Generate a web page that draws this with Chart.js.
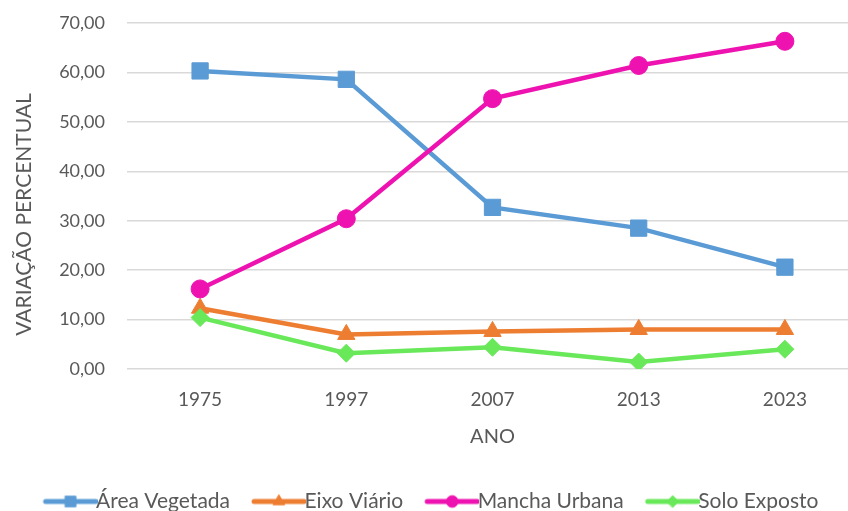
<!DOCTYPE html>
<html>
<head>
<meta charset="utf-8">
<script src="https://cdn.jsdelivr.net/npm/chart.js@4/dist/chart.umd.min.js"></script>
<style>
    html, body { margin: 0; padding: 0; background: #fff; overflow: hidden; }
    #wrap { width: 878px; height: 511px; position: relative; }
</style>
</head>
<body>
<div id="wrap"><canvas id="chart"></canvas></div>
<script>
const years = ['1975', '1997', '2007', '2013', '2023'];

const areaVegetada = [60.3, 58.6, 32.7, 28.5, 20.6];
const eixoViario = [12.3, 7.0, 7.6, 8.0, 8.0];
const manchaUrbana = [16.2, 30.4, 54.7, 61.4, 66.3];
const soloExposto = [10.4, 3.2, 4.4, 1.4, 4.0];

const seriesNames = ['Área Vegetada', 'Eixo Viário', 'Mancha Urbana', 'Solo Exposto'];
const seriesColors = ['#5B9BD5', '#ED7D31', '#EE12B0', '#69E85A'];
const seriesMarkers = ['rect', 'triangle', 'circle', 'rectRot'];
const markerSizes = [11.5, 10, 9, 9];

const textColor = '#595959';
const font = 'Lato';

// little line + marker picture for the legend, like Excel does it
function legendIcon(i) {
    let c = document.createElement('canvas');
    c.width = 70;
    c.height = 22;
    let ctx = c.getContext('2d');
    ctx.strokeStyle = seriesColors[i];
    ctx.lineWidth = 5;
    ctx.lineCap = 'round';
    ctx.beginPath();
    ctx.moveTo(18, 11);
    ctx.lineTo(68, 11);
    ctx.stroke();
    ctx.fillStyle = seriesColors[i];
    ctx.strokeStyle = seriesColors[i];
    ctx.lineWidth = 1;
    Chart.helpers.drawPoint(ctx, {
        pointStyle: seriesMarkers[i],
        radius: markerSizes[i] * 0.65,
        rotation: 0,
        borderWidth: 1,
    }, 43, 11);
    return c;
}

const allValues = [areaVegetada, eixoViario, manchaUrbana, soloExposto];

new Chart(document.getElementById('chart'), {
    type: 'line',
    data: {
        labels: years,
        datasets: allValues.map((values, i) => ({
            label: seriesNames[i],
            data: values,
            borderColor: seriesColors[i],
            backgroundColor: seriesColors[i],
            borderWidth: 4.5,
            pointStyle: seriesMarkers[i],
            pointRadius: markerSizes[i],
            pointHoverRadius: markerSizes[i],
            pointBorderWidth: 1,
            order: 4 - i,
            tension: 0,
        })),
    },
    options: {
        responsive: true,
        maintainAspectRatio: false,
        animation: false,
        layout: {
            padding: { top: 23, right: 20, left: 0, bottom: -11 },
        },
        plugins: {
            tooltip: { enabled: false },
            legend: {
                position: 'bottom',
                labels: {
                    color: textColor,
                    font: { family: font, size: 21 },
                    usePointStyle: true,
                    pointStyleWidth: 46,
                    padding: 18,
                    generateLabels: chart => chart.data.datasets.map((ds, i) => ({
                        text: ds.label,
                        fillStyle: seriesColors[i],
                        strokeStyle: seriesColors[i],
                        fontColor: textColor,
                        pointStyle: legendIcon(i),
                        lineWidth: 0,
                        hidden: false,
                        datasetIndex: i,
                    })),
                },
            },
        },
        scales: {
            x: {
                offset: true,
                grid: { display: false, drawTicks: false },
                border: { display: false },
                ticks: {
                    color: textColor,
                    font: { family: font, size: 19 },
                    padding: 19,
                },
                title: {
                    display: true,
                    text: 'ANO',
                    color: textColor,
                    font: { family: font, size: 20 },
                    padding: { top: 8, bottom: 24 },
                },
                afterFit: scale => { scale.height = 104; },
            },
            y: {
                min: 0,
                max: 70,
                ticks: {
                    stepSize: 10,
                    color: textColor,
                    font: { family: font, size: 18 },
                    padding: 22,
                    callback: v => v.toFixed(2).replace('.', ','),
                },
                grid: { color: '#D9D9D9', lineWidth: 1.5, drawTicks: false },
                border: { display: false },
                title: {
                    display: true,
                    // trailing spaces push the rotated title a bit lower, as in the original
                    text: 'VARIAÇÃO PERCENTUAL\u00A0\u00A0\u00A0\u00A0\u00A0\u00A0\u00A0',
                    color: textColor,
                    font: { family: font, size: 21 },
                    padding: { top: 12, bottom: 0 },
                },
                afterFit: scale => {
                    scale.width = 127;
                    scale.paddingTop = 0;
                    scale.paddingBottom = 0;
                },
            },
        },
    },
});
</script>
</body>
</html>
